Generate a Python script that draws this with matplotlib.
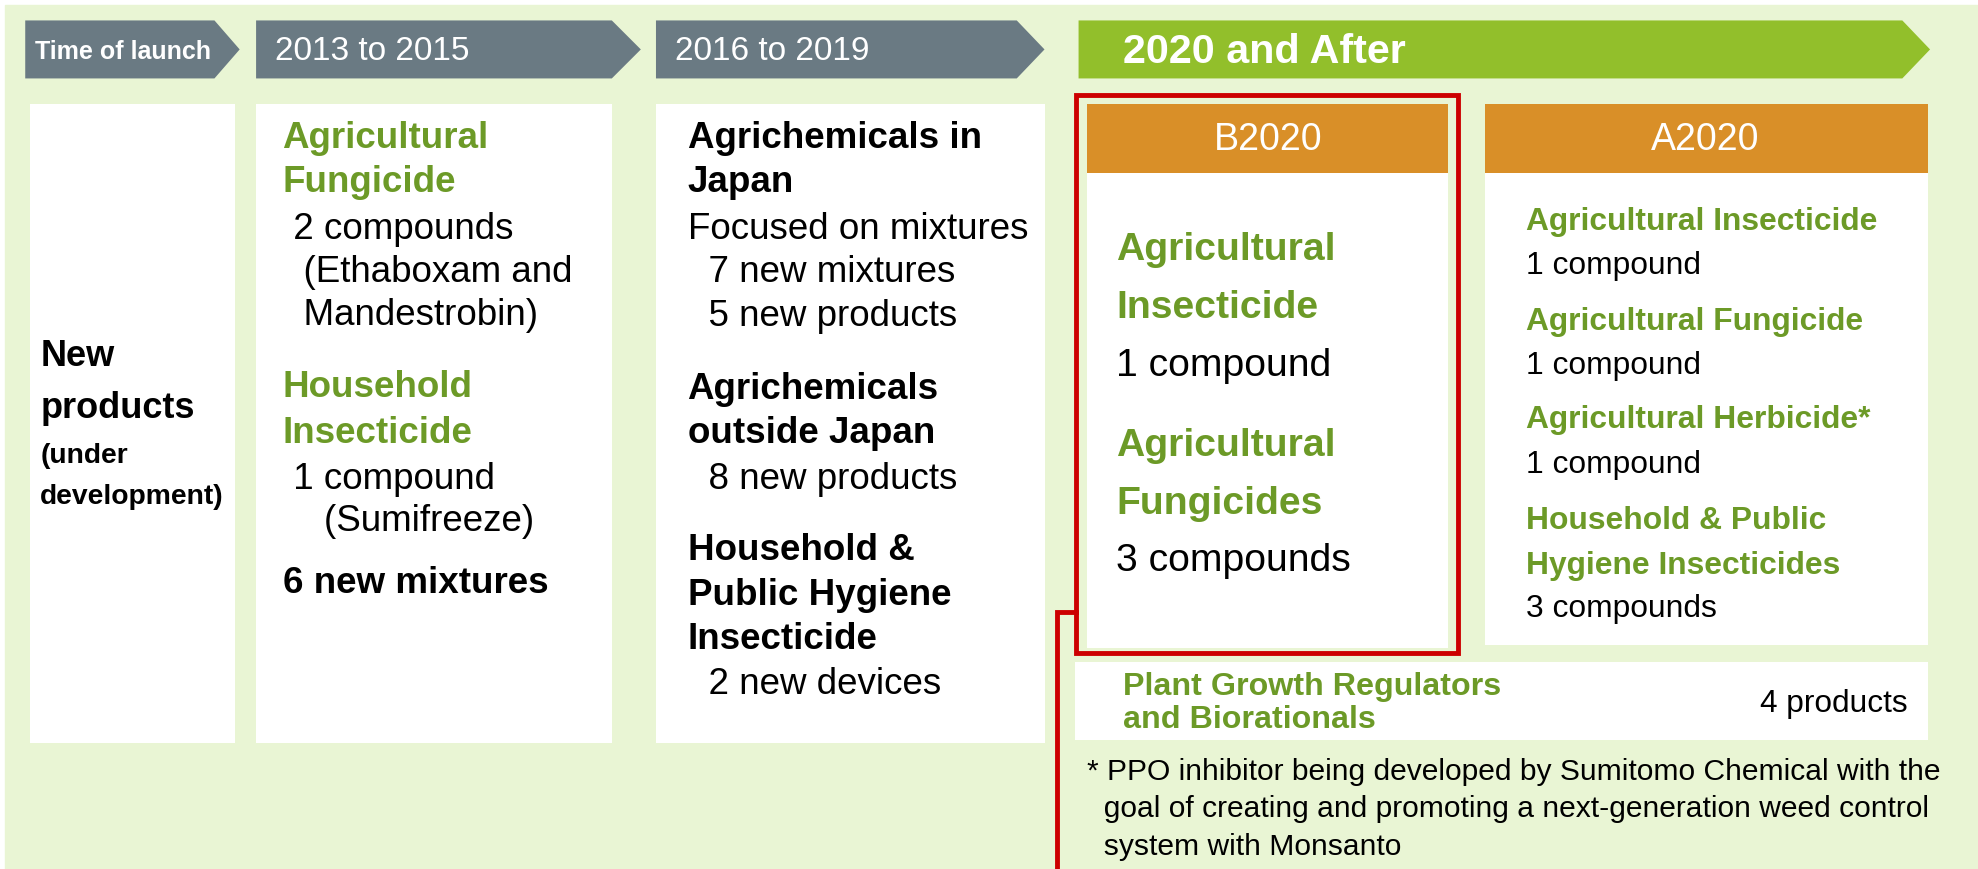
import matplotlib.pyplot as plt
from matplotlib.patches import Polygon, Rectangle

plt.rcParams["font.family"] = ["Liberation Sans", "DejaVu Sans"]

# colours
BG = "#E9F5D4"
GRAY = "#6A7A83"
LIME = "#92BF2B"
ORANGE = "#D98F28"
GREEN_TXT = "#6C9A27"
RED = "#CC0000"

HEADERS = ["Time of launch", "2013 to 2015", "2016 to 2019", "2020 and After"]

COL0_LINES = ["New", "products", "(under", "development)"]

COL1_LINES = [
    ("Agricultural", "g"), ("Fungicide", "g"),
    (" 2 compounds", "n"), ("  (Ethaboxam and", "n"), ("  Mandestrobin)", "n"),
    ("Household", "g"), ("Insecticide", "g"),
    (" 1 compound", "n"), ("    (Sumifreeze)", "n"),
    ("6 new mixtures", "b"),
]
COL1_Y = [110, 145, 182, 216, 250, 307, 344, 380, 414, 463]

COL2_LINES = [
    ("Agrichemicals in", "b"), ("Japan", "b"), ("Focused on mixtures", "n"),
    ("  7 new mixtures", "n"), ("  5 new products", "n"),
    ("Agrichemicals", "b"), ("outside Japan", "b"), ("  8 new products", "n"),
    ("Household &", "b"), ("Public Hygiene", "b"), ("Insecticide", "b"),
    ("  2 new devices", "n"),
]
COL2_Y = [110, 145, 182, 216, 251, 309, 344, 380, 437, 472, 507, 543]

B2020_LINES = [
    ("Agricultural", "g"), ("Insecticide", "g"), ("1 compound", "n"),
    ("Agricultural", "g"), ("Fungicides", "g"), ("3 compounds", "n"),
]
B2020_Y = [198, 244, 290, 354, 400, 445]

A2020_LINES = [
    ("Agricultural Insecticide", "g"), ("1 compound", "n"),
    ("Agricultural Fungicide", "g"), ("1 compound", "n"),
    ("Agricultural Herbicide*", "g"), ("1 compound", "n"),
    ("Household & Public", "g"), ("Hygiene Insecticides", "g"),
    ("3 compounds", "n"),
]
A2020_Y = [176, 211, 255, 290, 333, 369, 413, 449, 483]

PGR_LABEL = ["Plant Growth Regulators", "and Biorationals"]
PGR_COUNT = "4 products"

FOOTNOTE = [
    "* PPO inhibitor being developed by Sumitomo Chemical with the",
    "  goal of creating and promoting a next-generation weed control",
    "  system with Monsanto",
]

W, H = 1568, 690
fig = plt.figure(figsize=(19.78, 8.70), dpi=100)
ax = fig.add_axes([0, 0, 1, 1])
ax.set_xlim(0, W)
ax.set_ylim(H, 0)
ax.axis("off")

ax.add_patch(Rectangle((4, 5), W - 4, H - 5, color=BG, zorder=0))


def arrow(x0, x1, tip, y0, y1, color):
    pts = [(x0, y0), (x1, y0), (tip, (y0 + y1) / 2), (x1, y1), (x0, y1)]
    ax.add_patch(Polygon(pts, closed=True, color=color, lw=0, zorder=1))


def box(x0, y0, x1, y1, color="white", z=1):
    ax.add_patch(Rectangle((x0, y0), x1 - x0, y1 - y0, color=color, lw=0, zorder=z))


def lines(x, ys, items, size):
    for (s, kind), y in zip(items, ys):
        color = GREEN_TXT if kind == "g" else "black"
        weight = "normal" if kind == "n" else "bold"
        ax.text(x, y, s, fontsize=size, color=color, fontweight=weight,
                va="center", ha="left", zorder=3)


# header row
arrow(20, 170, 190, 17, 63, GRAY)
arrow(203, 485, 508, 17, 63, GRAY)
arrow(520, 806, 828, 17, 63, GRAY)
arrow(855, 1508, 1530, 17, 63, LIME)
ax.text(28, 41, HEADERS[0], color="white", fontsize=18, fontweight="bold", va="center", zorder=3)
ax.text(218, 41, HEADERS[1], color="white", fontsize=24, va="center", zorder=3)
ax.text(535, 41, HEADERS[2], color="white", fontsize=24, va="center", zorder=3)
ax.text(890, 41, HEADERS[3], color="white", fontsize=29.7, fontweight="bold", va="center", zorder=3)

# white columns
box(24, 83, 186, 590)
box(203, 83, 485, 590)
box(520, 83, 828, 590)

# column 0
ax.text(32, 283, COL0_LINES[0], fontsize=26, fontweight="bold", va="center", zorder=3)
ax.text(32, 324, COL0_LINES[1], fontsize=26, fontweight="bold", va="center", zorder=3)
ax.text(32, 362, COL0_LINES[2], fontsize=20.3, fontweight="bold", va="center", zorder=3)
ax.text(32, 394, COL0_LINES[3], fontsize=20.3, fontweight="bold", va="center", zorder=3)

lines(224, COL1_Y, COL1_LINES, 26.5)
lines(545, COL2_Y, COL2_LINES, 26.5)

# B2020 / A2020 panels
box(862, 83, 1148, 515)
box(862, 83, 1148, 138, ORANGE, 2)
box(1177, 83, 1528, 512)
box(1177, 83, 1528, 138, ORANGE, 2)
ax.text(1005, 111, "B2020", color="white", fontsize=27, ha="center", va="center", zorder=3)
ax.text(1352, 111, "A2020", color="white", fontsize=27, ha="center", va="center", zorder=3)
lines(885, B2020_Y, B2020_LINES, 28.2)
lines(1210, A2020_Y, A2020_LINES, 22.9)

# plant growth regulators bar
box(852, 526, 1528, 588)
ax.text(890, 545, PGR_LABEL[0], color=GREEN_TXT, fontsize=23.2, fontweight="bold", va="center", zorder=3)
ax.text(890, 571, PGR_LABEL[1], color=GREEN_TXT, fontsize=23.2, fontweight="bold", va="center", zorder=3)
ax.text(1512, 558, PGR_COUNT, fontsize=22.8, ha="right", va="center", zorder=3)

# footnote
for i, s in enumerate(FOOTNOTE):
    ax.text(862, 612 + 30 * i, s, fontsize=21.6, va="center", zorder=3)

# red highlight frame and connector
ax.add_patch(Rectangle((853, 76), 303, 443, fill=False, ec=RED, lw=3.5, zorder=4))
ax.plot([853, 838, 838], [486, 486, 690], color=RED, lw=3.5, zorder=4,
        solid_joinstyle="miter")

fig.savefig("out.png", dpi=100)
